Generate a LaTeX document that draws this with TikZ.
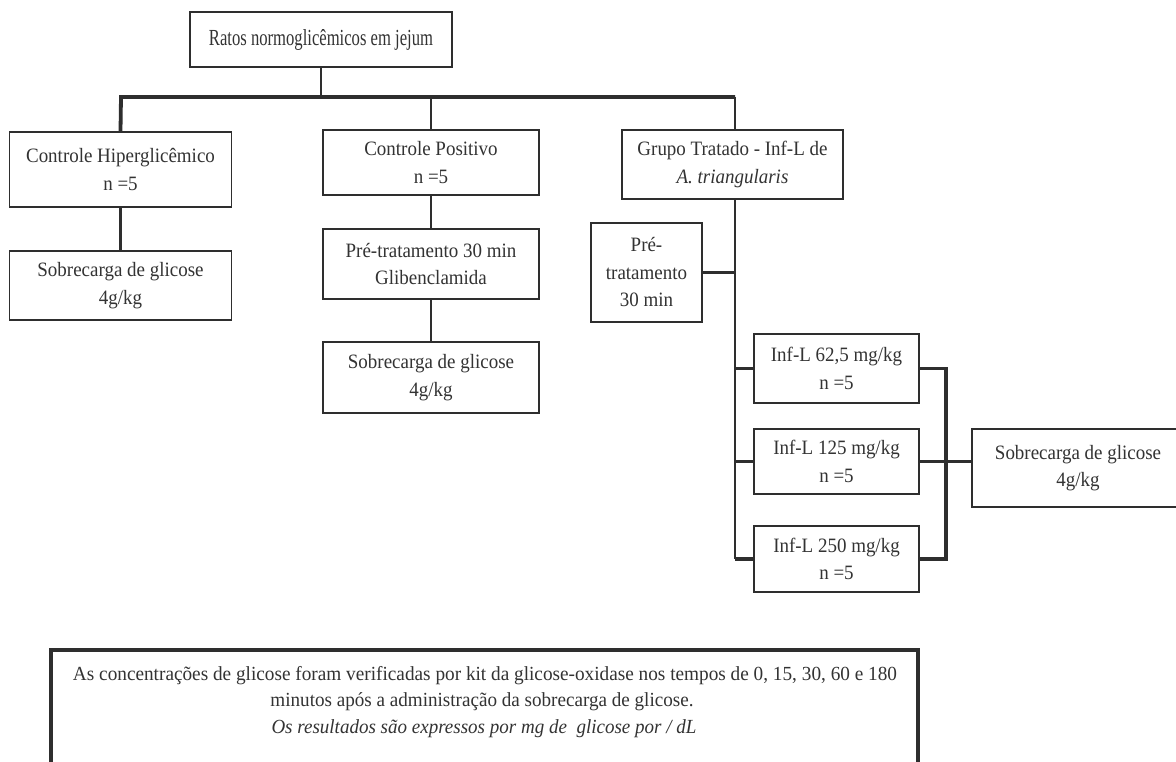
\documentclass[tikz,border=0pt]{standalone}
\usepackage{fontspec}
\usepackage{graphicx}
\setmainfont{Liberation Serif}[FakeStretch=0.93]
\definecolor{ink}{HTML}{333333}
\definecolor{linec}{HTML}{2E2E2E}
\begin{document}
\begin{tikzpicture}[x=1pt,y=-1pt,
  box/.style={draw=linec,line width=1.6pt,rectangle,inner sep=0pt,align=center,text=ink,
    font=\fontsize{20.4}{27.5}\selectfont},
  thk/.style={draw=linec,line width=3.8pt},
  med/.style={draw=linec,line width=2.9pt},
  notetext/.style={inner sep=0pt,text=ink,font=\fontsize{20}{22}\selectfont}]
\useasboundingbox (0,0) rectangle (1176,762);
\fill[white] (0,0) rectangle (1176,762);
\clip (0,0) rectangle (1176,762);

% nodes
\node[box,minimum width=262pt,minimum height=55pt] (top) at (321,39.5) {\resizebox{224pt}{\height}{\fontsize{23}{27}\selectfont Ratos normoglicêmicos em jejum}};
\node[box,minimum width=222pt,minimum height=75pt] (A1) at (120.5,169.5) {Controle Hiperglicêmico\\n =5};
\node[box,minimum width=222pt,minimum height=69pt] (A2) at (120.5,285.5) {Sobrecarga de glicose\\4g/kg};
\node[box,minimum width=216pt,minimum height=65pt] (B1) at (431,162.5) {Controle Positivo\\n =5};
\node[box,minimum width=216pt,minimum height=70pt] (B2) at (431,264) {Pré-tratamento 30 min\\Glibenclamida};
\node[box,minimum width=216pt,minimum height=71pt] (B3) at (431,377.5) {Sobrecarga de glicose\\4g/kg};
\node[box,minimum width=221pt,minimum height=69pt] (C1) at (732.5,164.5) {Grupo Tratado - Inf-L de\\\textit{A. triangularis}};
\node[box,minimum width=111pt,minimum height=99pt] (P) at (646.5,272.5) {Pré-\\tratamento\\30 min};
\node[box,minimum width=165pt,minimum height=69pt] (D1) at (836.5,368.5) {Inf-L 62,5 mg/kg\\n =5};
\node[box,minimum width=165pt,minimum height=65pt] (D2) at (836.5,461.5) {Inf-L 125 mg/kg\\n =5};
\node[box,minimum width=165pt,minimum height=66pt] (D3) at (836.5,559) {Inf-L 250 mg/kg\\n =5};
\node[box,minimum width=212pt,minimum height=78pt] (E) at (1078,468) {Sobrecarga de glicose\\4g/kg};

% junction coordinates
\coordinate (barL) at (121,97);
\coordinate (barR) at (735,97);
\coordinate (brx) at (946,461.5);

% top tree
\draw[med] (top.south) -- (top.south |- barL);
\draw[thk] (A1.north) -- (barL) -- (barR);
\draw[med] (barR) -- (barR |- C1.north);
\draw[med] (B1.north) -- (B1.north |- barL);

% left and middle columns
\draw[thk] (A1.south) -- (A2.north);
\draw[med] (B1.south) -- (B2.north);
\draw[med] (B2.south) -- (B3.north);

% treated group
\draw[med] (barR |- C1.south) -- (barR |- D3.west);
\draw[med] (P.east) -- (P.east -| barR);
\draw[thk] (barR |- D1.west) -- (D1.west);
\draw[med] (barR |- D2.west) -- (D2.west);
\draw[thk] (barR |- D3.west) -- (D3.west);
\draw[thk] (D1.east) -- (D1.east -| brx) -- (D3.east -| brx) -- (D3.east);
\draw[med] (D2.east) -- (D2.east -| E.west);

% bottom note box
\coordinate (nbl) at (51,780);
\coordinate (ntl) at (51,650);
\coordinate (ntr) at (918,650);
\coordinate (nbr) at (918,780);
\draw[draw=linec,line width=3.2pt] (nbl) -- (ntl) -- (ntr) -- (nbr);
\node[notetext] (n1) at (485,676) {\resizebox{824pt}{\height}{As concentrações de glicose foram verificadas por kit da glicose-oxidase nos tempos de 0, 15, 30, 60 e 180}};
\node[notetext] (n2) at (482,702) {\resizebox{423pt}{\height}{minutos após a administração da sobrecarga de glicose.}};
\node[notetext] (n3) at (484,729) {\resizebox{425pt}{\height}{\itshape Os resultados são expressos por mg de \ glicose por / dL}};
\end{tikzpicture}
\end{document}
